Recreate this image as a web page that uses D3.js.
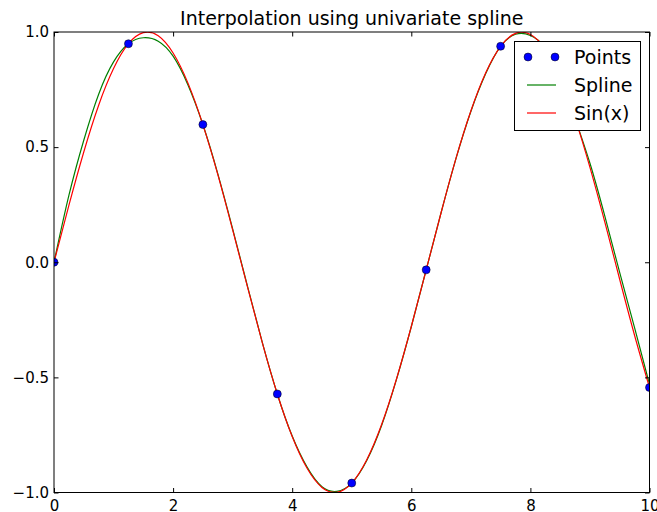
<!DOCTYPE html>
<html><head><meta charset="utf-8">
<script src="https://cdn.jsdelivr.net/npm/d3@7"></script>
<style>body{margin:0;background:#fff}svg{display:block}text{font-family:"DejaVu Sans",sans-serif}</style>
</head><body>
<script>
// Data
const pointX = [0, 1.25, 2.5, 3.75, 5, 6.25, 7.5, 8.75, 10];
const pointY = [0, 0.949, 0.598, -0.572, -0.959, -0.033, 0.938, 0.625, -0.544];
const curveX = [0,0.25,0.5,0.75,1,1.25,1.5,1.75,2,2.25,2.5,2.75,3,3.25,3.5,3.75,4,4.25,4.5,4.75,5,5.25,5.5,5.75,6,6.25,6.5,6.75,7,7.25,7.5,7.75,8,8.25,8.5,8.75,9,9.25,9.5,9.75,10];
const splineY = [0,0.29,0.53,0.73,0.87,0.949,0.975,0.96,0.895,0.77,0.598,0.385,0.145,-0.105,-0.35,-0.572,-0.755,-0.89,-0.975,-0.995,-0.959,-0.862,-0.71,-0.51,-0.28,-0.033,0.215,0.45,0.655,0.82,0.938,0.99,0.985,0.932,0.81,0.625,0.43,0.2,-0.045,-0.285,-0.53];
const sinY = [0,0.247,0.479,0.682,0.841,0.949,0.997,0.984,0.909,0.778,0.598,0.382,0.141,-0.108,-0.351,-0.572,-0.757,-0.895,-0.978,-0.999,-0.959,-0.859,-0.706,-0.508,-0.279,-0.033,0.215,0.451,0.657,0.823,0.938,0.994,0.989,0.925,0.798,0.625,0.412,0.174,-0.075,-0.318,-0.544];
const xTicks = [0,2,4,6,8,10];
const yTicks = [-1,-0.5,0,0.5,1];
const title = "Interpolation using univariate spline";
const legendLabels = ["Points","Spline","Sin(x)"];

const W=657,H=512, L=54,R=649.5,T=32,B=492.5;
const svg=d3.select("body").append("svg").attr("width",W).attr("height",H);
const x=d3.scaleLinear().domain([0,10]).range([L,R]);
const y=d3.scaleLinear().domain([-1,1]).range([B,T]);

svg.append("defs").append("clipPath").attr("id","clip").append("rect")
  .attr("x",L).attr("y",T).attr("width",R-L).attr("height",B-T);

const g=svg.append("g").attr("clip-path","url(#clip)");
const line=d3.line().x(d=>x(d[0])).y(d=>y(d[1])).curve(d3.curveNatural);
g.append("path").datum(curveX.map((v,i)=>[v,splineY[i]])).attr("d",line)
  .attr("fill","none").attr("stroke","#008000").attr("stroke-width",1.2);
g.append("path").datum(curveX.map((v,i)=>[v,sinY[i]])).attr("d",line)
  .attr("fill","none").attr("stroke","#ff0000").attr("stroke-width",1.2);
g.selectAll("circle").data(pointX.map((v,i)=>[v,pointY[i]])).enter().append("circle")
  .attr("cx",d=>x(d[0])).attr("cy",d=>y(d[1])).attr("r",4)
  .attr("fill","#0000ff").attr("stroke","#000").attr("stroke-width",0.5);

// axes (ticks inward, on all sides)
const tl=4.5;
const fmt=d3.format(".1f");
svg.append("g").attr("transform",`translate(0,${B})`)
  .call(d3.axisBottom(x).tickValues(xTicks).tickSize(-tl).tickPadding(6).tickFormat(d3.format("d")))
  .call(a=>{a.select(".domain").remove();a.selectAll("text").attr("font-size",15).attr("fill","#000").attr("y",8).attr("dy","0.71em");});
svg.append("g").attr("transform",`translate(0,${T})`)
  .call(d3.axisTop(x).tickValues(xTicks).tickSize(-tl).tickFormat(""))
  .call(a=>a.select(".domain").remove());
svg.append("g").attr("transform",`translate(${L},0)`)
  .call(d3.axisLeft(y).tickValues(yTicks).tickSize(-tl).tickPadding(5).tickFormat(d=>fmt(d).replace("-","\u2212")))
  .call(a=>{a.select(".domain").remove();a.selectAll("text").attr("font-size",15).attr("fill","#000").attr("x",-5);});
svg.append("g").attr("transform",`translate(${R},0)`)
  .call(d3.axisRight(y).tickValues(yTicks).tickSize(-tl).tickFormat(""))
  .call(a=>a.select(".domain").remove());
svg.selectAll(".tick line").attr("stroke","#000");
svg.append("rect").attr("x",L).attr("y",T).attr("width",R-L).attr("height",B-T)
  .attr("fill","none").attr("stroke","#000").attr("stroke-width",1);

svg.append("text").attr("x",(L+R)/2).attr("y",25).attr("text-anchor","middle")
  .attr("font-size",19).text(title);

// legend
const lg=svg.append("g");
lg.append("rect").attr("x",514.5).attr("y",41.5).attr("width",126).attr("height",89)
  .attr("fill","#fff").attr("stroke","#000").attr("stroke-width",1);
const rows=[57,85,113];
lg.append("circle").attr("cx",528).attr("cy",rows[0]).attr("r",4).attr("fill","#0000ff").attr("stroke","#000").attr("stroke-width",0.5);
lg.append("circle").attr("cx",555).attr("cy",rows[0]).attr("r",4).attr("fill","#0000ff").attr("stroke","#000").attr("stroke-width",0.5);
lg.append("line").attr("x1",527).attr("x2",556).attr("y1",rows[1]).attr("y2",rows[1]).attr("stroke","#008000").attr("stroke-width",1.2);
lg.append("line").attr("x1",527).attr("x2",556).attr("y1",rows[2]).attr("y2",rows[2]).attr("stroke","#ff0000").attr("stroke-width",1.2);
legendLabels.forEach((t,i)=>lg.append("text").attr("x",574).attr("y",rows[i]).attr("dy","0.35em").attr("font-size",19).text(t));
</script>
</body></html>
